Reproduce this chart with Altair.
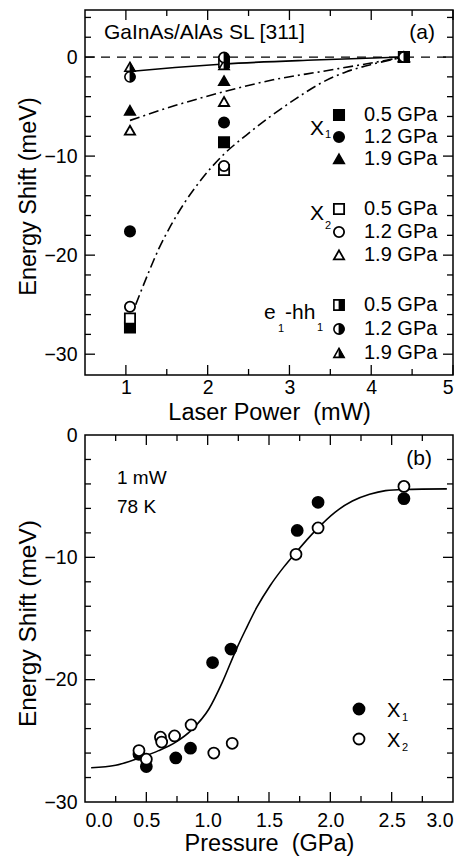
import altair as alt
import pandas as pd

FONT = "Liberation Sans"

# ---------------- panel (a): energy shift vs laser power ----------------
a_power = [1.05, 2.2, 4.4]
a_x1_05 = [-27.3, -8.6, 0.0]
a_x1_12 = [-17.6, -6.6, 0.0]
a_x1_19 = [-5.4, -2.4, 0.0]
a_x2_05 = [-26.4, -11.4, 0.0]
a_x2_12 = [-25.2, -11.0, 0.0]
a_x2_19 = [-7.4, -4.5, 0.0]
a_e1_05 = [-26.8, -0.5, 0.0]
a_e1_12 = [-2.0, -0.05, 0.0]
a_e1_19 = [-1.0, -0.8, 0.0]

a_fit_solid_x = [1.05, 1.6, 2.2, 3.3, 4.4]
a_fit_solid_y = [-1.45, -1.05, -0.7, -0.3, 0.0]
a_fit_dd1_x = [1.05, 1.6, 2.2, 2.8, 3.4, 4.0, 4.4]
a_fit_dd1_y = [-6.4, -4.9, -3.5, -2.3, -1.45, -0.6, 0.0]
a_fit_dd2_x = [1.12, 1.28, 1.40, 1.55, 1.71, 1.90, 2.20, 2.47, 2.75, 3.08, 3.37, 3.69, 3.98, 4.40]
a_fit_dd2_y = [-25.0, -21.7, -19.4, -17.0, -14.8, -12.6, -9.8, -7.9, -6.1, -4.2, -2.7, -1.5, -0.8, 0.0]

a_xticks_major = [1, 2, 3, 4, 5]
a_xticks_minor = [1.5, 2.5, 3.5, 4.5]
a_yticks_major = [0, -10, -20, -30]
a_yticks_minor = [4, 2, -2, -4, -6, -8, -12, -14, -16, -18, -22, -24, -26, -28]

legend_pressures = ["0.5 GPa", "1.2 GPa", "1.9 GPa"]

# ---------------- panel (b): energy shift vs pressure ----------------
b_x1_p = [0.44, 0.50, 0.74, 0.86, 1.04, 1.19, 1.73, 1.90, 2.60]
b_x1_e = [-26.1, -27.1, -26.4, -25.6, -18.6, -17.5, -7.8, -5.5, -5.2]
b_x2_p = [0.44, 0.50, 0.615, 0.625, 0.73, 0.865, 1.05, 1.20, 1.72, 1.90, 2.60]
b_x2_e = [-25.8, -26.5, -24.7, -25.1, -24.6, -23.7, -26.0, -25.2, -9.75, -7.6, -4.2]

b_fit_p = [0.05, 0.25, 0.44, 0.60, 0.74, 0.87, 1.01, 1.12, 1.23, 1.31, 1.40, 1.51, 1.62,
           1.72, 1.88, 2.04, 2.18, 2.32, 2.45, 2.60, 2.95]
b_fit_e = [-27.2, -27.0, -26.4, -25.8, -25.1, -24.1, -22.4, -20.2, -17.6, -15.9, -14.1, -12.3, -10.8,
           -9.6, -7.8, -6.3, -5.4, -4.85, -4.55, -4.45, -4.4]

b_xticks_labels = [0.0, 0.5, 1.0, 1.5, 2.0, 2.5, 3.0]
b_xticks_major = [0.5, 1.0, 1.5, 2.0, 2.5]
b_xticks_minor = [0.25, 0.75, 1.25, 1.75, 2.25, 2.75]
b_yticks_labels = [0, -10, -20, -30]
b_yticks_major = [-10, -20]
b_yticks_minor = [-2, -4, -6, -8, -12, -14, -16, -18, -22, -24, -26, -28]

# ---------------- layout constants ----------------
W = 368
HA = 365
HB = 367
MAJ = 10
MIN = 6

SCALE_XA = alt.Scale(domain=[0.5, 5.0], nice=False, zero=False)
SCALE_YA = alt.Scale(domain=[-32.1, 4.75], nice=False, zero=False)
SCALE_XB = alt.Scale(domain=[0.0, 3.0], nice=False, zero=False)
SCALE_YB = alt.Scale(domain=[-30.0, 0.0], nice=False, zero=False)

AXIS_XA = alt.Axis(values=a_xticks_major, format="d", title="Laser Power\u00a0 (mW)",
                   labelPadding=3, titlePadding=4, titleFontSize=23.5)
AXIS_YA = alt.Axis(values=a_yticks_major, format="d", title="Energy Shift (meV)",
                   labelPadding=8, titleX=-50, titleY=186, titleBaseline="alphabetic",
                   titleAngle=270, titleFontSize=23.5)
AXIS_XB = alt.Axis(values=b_xticks_labels, format=".1f", title="Pressure\u00a0 (GPa)",
                   labelPadding=9, titlePadding=2, titleFontSize=23.5)
AXIS_YB = alt.Axis(values=b_yticks_labels, format="d", title="Energy Shift (meV)",
                   labelPadding=8, titleX=-50, titleY=188, titleBaseline="alphabetic",
                   titleAngle=270, titleFontSize=24.5)

XA = (SCALE_XA, AXIS_XA)
YA = (SCALE_YA, AXIS_YA)
XB = (SCALE_XB, AXIS_XB)
YB = (SCALE_YB, AXIS_YB)

DUMMY = pd.DataFrame({"d": [0]})

SQ = "square"
CI = "circle"
TRI = "M0,-0.9L1,0.85L-1,0.85Z"
SQ_H = "M0,-1L1,-1L1,1L0,1Z"
CI_H = "M0,-1A1,1,0,0,1,0,1Z"
TRI_H = "M0,-0.9L1,0.85L0,0.85Z"


def df(xs, ys):
    return pd.DataFrame({"x": xs, "y": ys})


def xenc(field, sx):
    return alt.X(field, scale=sx[0], axis=sx[1])


def yenc(field, sy):
    return alt.Y(field, scale=sy[0], axis=sy[1])


def points(data, xs, ys, shape, fill, size, sw=1.8):
    return alt.Chart(data).mark_point(
        shape=shape, filled=True, fill=fill, stroke="black", strokeWidth=sw,
        size=size, opacity=1
    ).encode(x=xenc("x:Q", xs), y=yenc("y:Q", ys))


def half_points(data, xs, ys, shape, half, size):
    return [points(data, xs, ys, shape, "white", size, 1.6),
            points(data, xs, ys, half, "black", size, 0.8)]


def sym(px, py, shape, fill, size, sw=1.8):
    return alt.Chart(DUMMY).mark_point(
        shape=shape, filled=True, fill=fill, stroke="black", strokeWidth=sw,
        size=size, opacity=1
    ).encode(x=alt.value(px), y=alt.value(py))


def half_sym(px, py, shape, half, size):
    return [sym(px, py, shape, "white", size, 1.6), sym(px, py, half, "black", size, 0.8)]


def txt(s, px, py, size=20, align="left", baseline="middle"):
    return alt.Chart(DUMMY).mark_text(
        text=s, font=FONT, fontSize=size, align=align, baseline=baseline, color="black"
    ).encode(x=alt.value(px), y=alt.value(py))


def tick_layers(vals, sc, axis, length, H):
    d = pd.DataFrame({"v": vals})
    m = alt.Chart(d).mark_rule(color="black", strokeWidth=1.3)
    if axis == "x":
        f = xenc("v:Q", sc)
        return [m.encode(x=f, y=alt.value(H), y2=alt.value(H - length)),
                m.encode(x=f, y=alt.value(0), y2=alt.value(length))]
    f = yenc("v:Q", sc)
    return [m.encode(y=f, x=alt.value(0), x2=alt.value(length)),
            m.encode(y=f, x=alt.value(W), x2=alt.value(W - length))]


def fit_line(xs_vals, ys_vals, xs, ys, dash=None):
    kw = dict(color="black", strokeWidth=1.6, interpolate="monotone")
    if dash:
        kw["strokeDash"] = dash
    return alt.Chart(df(xs_vals, ys_vals)).mark_line(**kw).encode(
        x=xenc("x:Q", xs), y=yenc("y:Q", ys))


# ---------------- panel (a) ----------------
zero_line = alt.Chart(pd.DataFrame({"y": [0.0]})).mark_rule(
    color="black", strokeWidth=1.3, strokeDash=[9, 7]
).encode(y=yenc("y:Q", YA), x=alt.value(0), x2=alt.value(W))

DD = [10, 4, 2, 4]
la = [zero_line,
      fit_line(a_fit_solid_x, a_fit_solid_y, XA, YA),
      fit_line(a_fit_dd1_x, a_fit_dd1_y, XA, YA, DD),
      fit_line(a_fit_dd2_x, a_fit_dd2_y, XA, YA, DD)]

SZ = 105
la += half_points(df(a_power, a_e1_05), XA, YA, SQ, SQ_H, SZ)
la += [points(df(a_power, a_x1_05), XA, YA, SQ, "black", SZ),
       points(df(a_power, a_x1_12), XA, YA, CI, "black", SZ),
       points(df(a_power, a_x1_19), XA, YA, TRI, "black", SZ)]
la += [points(df(a_power, a_x2_05), XA, YA, SQ, "white", SZ),
       points(df(a_power, a_x2_12), XA, YA, CI, "white", SZ),
       points(df(a_power, a_x2_19), XA, YA, TRI, "white", SZ)]
la += half_points(df(a_power, a_e1_19), XA, YA, TRI, TRI_H, SZ)
la += half_points(df(a_power, a_e1_12), XA, YA, CI, CI_H, SZ)

la += tick_layers(a_xticks_major, XA, "x", MAJ, HA)
la += tick_layers(a_xticks_minor, XA, "x", MIN, HA)
la += tick_layers(a_yticks_major, YA, "y", MAJ, HA)
la += tick_layers(a_yticks_minor, YA, "y", MIN, HA)

la += [txt("GaInAs/AlAs SL [311]", 19, 23, 21),
       txt("(a)", 350, 23, 21, align="right")]

# legend (a)
SX = 254
LX = 279
rows_x1 = [105, 127, 149]
rows_x2 = [199, 222, 245]
rows_e1 = [295, 319, 343]
la += [sym(SX, rows_x1[0], SQ, "black", SZ), sym(SX, rows_x1[1], CI, "black", SZ),
       sym(SX, rows_x1[2], TRI, "black", SZ)]
la += [sym(SX, rows_x2[0], SQ, "white", SZ), sym(SX, rows_x2[1], CI, "white", SZ),
       sym(SX, rows_x2[2], TRI, "white", SZ)]
la += half_sym(SX, rows_e1[0], SQ, SQ_H, SZ)
la += half_sym(SX, rows_e1[1], CI, CI_H, SZ)
la += half_sym(SX, rows_e1[2], TRI, TRI_H, SZ)
for rows in (rows_x1, rows_x2, rows_e1):
    for r, lab in zip(rows, legend_pressures):
        la.append(txt(lab, LX, r, 20))
la += [txt("X", 239, 125, 21, align="right", baseline="alphabetic"),
       txt("1", 240, 128, 11, baseline="alphabetic"),
       txt("X", 239, 210, 21, align="right", baseline="alphabetic"),
       txt("2", 240, 219, 11, baseline="alphabetic"),
       txt("e", 179, 309, 21, baseline="alphabetic"),
       txt("1", 193, 322, 11, baseline="alphabetic"),
       txt("-hh", 200, 309, 21, baseline="alphabetic"),
       txt("1", 232, 321, 11, baseline="alphabetic")]

panel_a = alt.layer(*la).properties(width=W, height=HA)

# ---------------- panel (b) ----------------
SB = 121
lb = [fit_line(b_fit_p, b_fit_e, XB, YB),
      points(df(b_x1_p, b_x1_e), XB, YB, CI, "black", SB),
      points(df(b_x2_p, b_x2_e), XB, YB, CI, "white", SB)]
lb += tick_layers(b_xticks_major, XB, "x", MAJ, HB)
lb += tick_layers(b_xticks_minor, XB, "x", MIN, HB)
lb += tick_layers(b_yticks_major, YB, "y", MAJ, HB)
lb += tick_layers(b_yticks_minor, YB, "y", MIN, HB)
lb += [txt("1 mW", 32, 43, 19), txt("78 K", 32, 72, 19),
       txt("(b)", 347, 24, 21, align="right")]
lb += [sym(274, 274, CI, "black", SB), sym(274, 304, CI, "white", SB),
       txt("X", 302, 282, 20, baseline="alphabetic"),
       txt("1", 317, 286, 11, baseline="alphabetic"),
       txt("X", 302, 312, 20, baseline="alphabetic"),
       txt("2", 317, 316, 11, baseline="alphabetic")]

panel_b = alt.layer(*lb).properties(width=W, height=HB)

chart = alt.vconcat(panel_a, panel_b, spacing=60, bounds="flush").properties(
    padding={"left": 6, "top": 0, "right": 0, "bottom": 0}
).configure_view(
    stroke="black", strokeWidth=1.5
).configure_axis(
    labelFont=FONT, labelFontSize=19.5, labelColor="black",
    titleFont=FONT, titleFontSize=23, titleFontWeight="normal", titleColor="black",
    ticks=False, tickSize=0, domain=False, grid=False
)

chart.save("out.html", embed_options={"renderer": "svg", "actions": False})
